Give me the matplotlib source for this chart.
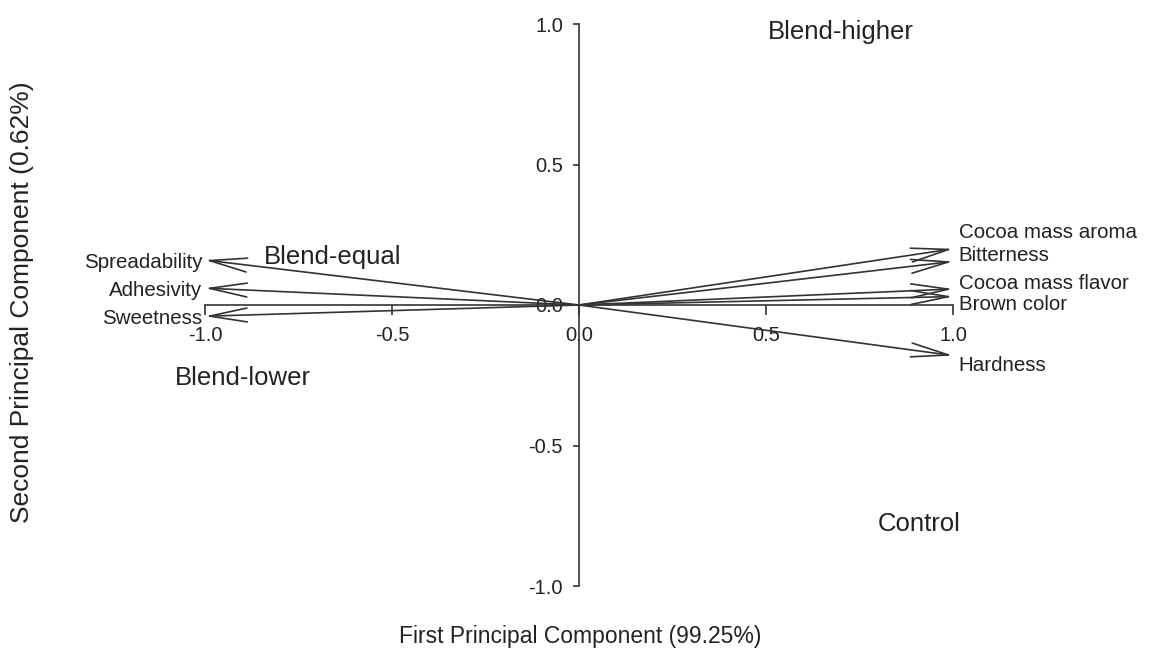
import matplotlib
matplotlib.use("Agg")
import matplotlib.pyplot as plt

plt.rcParams['font.family'] = ['Liberation Sans', 'DejaVu Sans']

# loadings of sensory attributes on PC1 / PC2
attributes = ["Spreadability", "Adhesivity", "Sweetness",
              "Cocoa mass aroma", "Bitterness", "Cocoa mass flavor",
              "Brown color", "Hardness"]
pc1 = [-1.0, -1.0, -1.0, 1.0, 1.0, 1.0, 1.0, 1.0]
pc2 = [0.16, 0.06, -0.04, 0.20, 0.155, 0.057, 0.03, -0.18]

# sample scores
samples = ["Blend-higher", "Blend-equal", "Blend-lower", "Control"]
score1 = [0.70, -0.66, -0.90, 0.91]
score2 = [0.97, 0.17, -0.26, -0.78]

ticks = [-1.0, -0.5, 0.0, 0.5, 1.0]
tick_labels = ["-1.0", "-0.5", "0.0", "0.5", "1.0"]

# label nudges (points) so the right-hand names don't overlap
label_dy = [-1.5, -1.5, -1.5, 11.5, 4, 4, -6, -7.5]

ink = "#333333"

fig = plt.figure(figsize=(11.5, 6.5), dpi=100)
ax = fig.add_axes([205 / 1150, 64 / 650, 748 / 1150, 562 / 650])
ax.set_xlim(-1, 1)
ax.set_ylim(-1, 1)

for side in ["top", "right"]:
    ax.spines[side].set_visible(False)
ax.spines["left"].set_position(("data", 0))
ax.spines["bottom"].set_position(("data", 0))
for side in ["left", "bottom"]:
    ax.spines[side].set_color(ink)
    ax.spines[side].set_linewidth(1.2)

ax.set_xticks(ticks)
ax.set_xticklabels(tick_labels)
ax.set_yticks(ticks)
ax.set_yticklabels(tick_labels)
ax.tick_params(axis="x", direction="out", length=7, width=1.2, color=ink,
               labelsize=14.5, labelcolor="#222222", pad=8)
ax.tick_params(axis="y", direction="out", length=4.5, width=1.2, color=ink,
               labelsize=14.5, labelcolor="#222222", pad=7)

# arrows from origin
for a, x, y, dy in zip(attributes, pc1, pc2, label_dy):
    ax.annotate("", xy=(x, y), xytext=(0, 0),
                arrowprops=dict(arrowstyle="->,head_length=2.7,head_width=0.5",
                                color=ink, lw=1.2, shrinkA=0, shrinkB=0),
                annotation_clip=False)
    if x < 0:
        ax.annotate(a, xy=(x, y), xytext=(-2, dy), textcoords="offset points",
                    ha="right", va="center", fontsize=14.8, color="#222222",
                    annotation_clip=False)
    else:
        ax.annotate(a, xy=(x, y), xytext=(4, dy), textcoords="offset points",
                    ha="left", va="center", fontsize=14.8, color="#222222",
                    annotation_clip=False)

for s, x, y in zip(samples, score1, score2):
    ax.text(x, y, s, ha="center", va="center", fontsize=18.5,
            color="#222222", clip_on=False)

fig.text(580 / 1150, 1 - 637 / 650, "First Principal Component (99.25%)",
         ha="center", va="center", fontsize=16.5, color="#222222")
fig.text(22 / 1150, 1 - 302 / 650, "Second Principal Component (0.62%)",
         ha="center", va="center", rotation=90, fontsize=19, color="#222222")

fig.savefig("out.png", dpi=100, facecolor="white")
